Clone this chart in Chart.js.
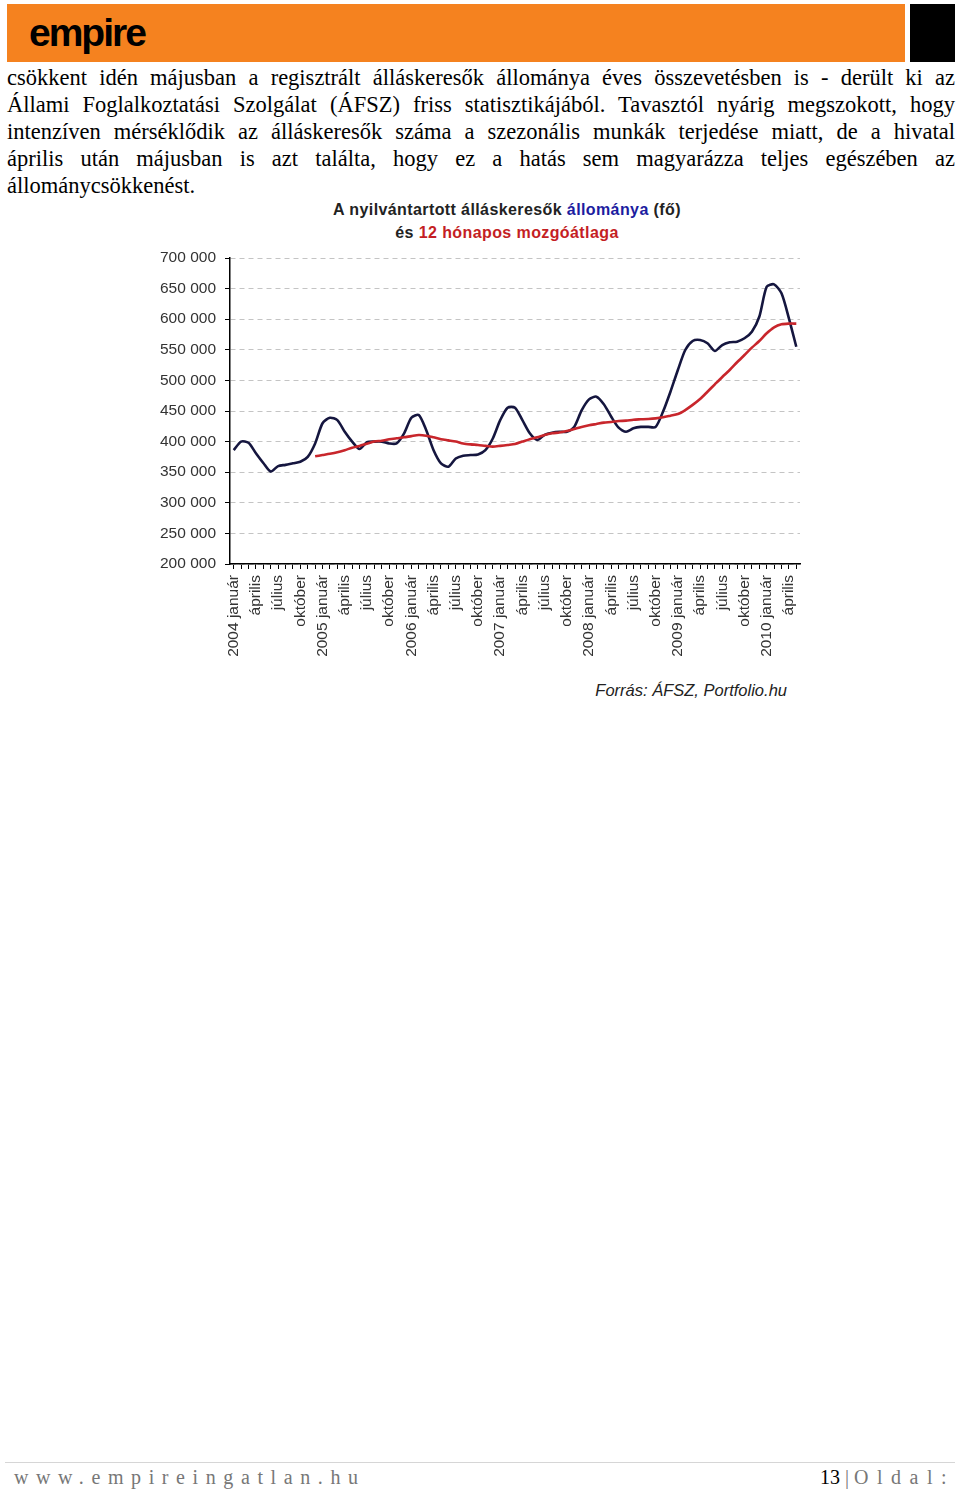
<!DOCTYPE html>
<html lang="hu">
<head>
<meta charset="utf-8">
<title>Álláskeresők állománya</title>
<script src="https://cdn.jsdelivr.net/npm/chart.js@4.4.0/dist/chart.umd.min.js"></script>
<style>
  body { margin: 0; background: #fff; }
  #page { position: relative; width: 960px; height: 1493px; overflow: hidden; }
  #bar { position: absolute; left: 7px; top: 4px; width: 898px; height: 58px; background: #f5821f; }
  #blk { position: absolute; left: 910px; top: 4px; width: 45px; height: 58px; background: #000; }
  #logo { position: absolute; left: 29px; top: 11px; font: 900 39px "Liberation Sans", Arial, sans-serif; letter-spacing: -2.0px; color: #000; }
  #text { position: absolute; left: 7px; top: 64px; width: 948px; font: 22.5px/27px "Liberation Serif", "Times New Roman", serif; color: #000; }
  #text div { text-align: justify; text-align-last: justify; white-space: nowrap; }
  #text div.last { text-align-last: left; }
  #title { position: absolute; left: 227px; top: 198px; width: 560px; text-align: center; font: bold 16px/23px "Liberation Sans", Arial, sans-serif; letter-spacing: 0.4px; color: #222; }
  #title .b { color: #1c1ca0; }
  #title .r { color: #c41e24; }
  #chartBox { position: absolute; left: 150px; top: 245px; width: 660px; height: 430px; }
  #src { position: absolute; left: 540px; width: 247px; top: 681px; text-align: right; font: italic 16.5px "Liberation Sans", Arial, sans-serif; color: #222; }
  #foot { position: absolute; left: 5px; top: 1462px; width: 950px; border-top: 1px solid #d6d6d6; }
  #url { position: absolute; left: 14px; top: 1466px; font: 20px "Liberation Serif", serif; letter-spacing: 7.6px; color: #777; }
  #pg { position: absolute; left: 820px; top: 1466px; font: 20px "Liberation Serif", serif; color: #777; }
  #pg b { font-weight: normal; color: #000; }
  #pg span { letter-spacing: 8.5px; }
</style>
</head>
<body>
<div id="page">
  <div id="bar"></div>
  <div id="blk"></div>
  <div id="logo">empire</div>

  <div id="text">
    <div>csökkent idén májusban a regisztrált álláskeresők állománya éves összevetésben is - derült ki az</div>
    <div>Állami Foglalkoztatási Szolgálat (ÁFSZ) friss statisztikájából. Tavasztól nyárig megszokott, hogy</div>
    <div>intenzíven mérséklődik az álláskeresők száma a szezonális munkák terjedése miatt, de a hivatal</div>
    <div>április után májusban is azt találta, hogy ez a hatás sem magyarázza teljes egészében az</div>
    <div class="last">állománycsökkenést.</div>
  </div>

  <div id="title">A nyilvántartott álláskeresők <span class="b">állománya</span> (fő)<br>és <span class="r">12 hónapos mozgóátlaga</span></div>
  <div id="chartBox"><canvas id="chart" width="660" height="430"></canvas></div>
  <div id="src">Forrás: ÁFSZ, Portfolio.hu</div>

  <div id="foot"></div>
  <div id="url">www.empireingatlan.hu</div>
  <div id="pg"><b>13</b> | <span>Oldal:</span></div>
</div>

<script>
// hónapnevek és évek -> kategóriák (2004 január - 2010 május)
const monthNames = ["január", "február", "március", "április", "május", "június",
  "július", "augusztus", "szeptember", "október", "november", "december"];
const years = [2004, 2005, 2006, 2007, 2008, 2009, 2010];
const lastMonth = 4; // 2010 május

// nyilvántartott álláskeresők (fő)
const allomany = [
  386000, 400000, 398000, 381000, 365000, 351000, 360000, 362000, 364500, 367000, 375000, 397000,
  430000, 439000, 435000, 416000, 400000, 388000, 399000, 400000, 400000, 397000, 397000, 413000,
  439000, 443500, 419000, 386000, 364500, 359000, 372500, 377000, 378000, 379000, 386000, 405000,
  435000, 455500, 455500, 435000, 413500, 402600, 411000, 414600, 416000, 416000, 424000, 451000,
  469000, 473400, 461000, 440700, 422700, 416000, 421700, 424000, 424000, 424000, 449000, 481500,
  517000, 549700, 564400, 566000, 560600, 548000, 557800, 562200, 563300, 568800, 579600, 604000,
  653000, 657000, 642300, 601500, 555000
];

// 12 hónapos mozgóátlag (2004 decembertől)
const mozgoatlag = [
  null, null, null, null, null, null, null, null, null, null, null, 376000,
  378000, 380000, 382500, 386000, 390000, 393000, 396600, 400000, 401500, 403700, 405400, 407000,
  409000, 410800, 409700, 407000, 404000, 402000, 400000, 397000, 395500, 394500, 393000, 391800,
  393000, 394500, 396000, 400000, 404000, 407000, 410800, 413500, 415000, 417300, 420600, 424000,
  426600, 428800, 431000, 432000, 433600, 434200, 435800, 436400, 437000, 438000, 439700, 442300,
  445000, 451600, 460000, 469600, 481500, 493600, 505600, 517000, 529600, 541500, 553500, 564400,
  577000, 586800, 591700, 592800, 592800
];

const yTicks = { min: 200000, max: 700000, step: 50000 };

// kategóriák felépítése
const labels = [];
years.forEach(y => {
  monthNames.forEach((m, i) => {
    if (y === years[years.length - 1] && i > lastMonth) return;
    labels.push(i === 0 ? y + " január" : m);
  });
});

const tickFont = { family: "Liberation Sans, Arial, sans-serif", size: 15.5 };

function fmt(v) {
  return String(v).replace(/\B(?=(\d{3})+(?!\d))/g, " ");
}

new Chart(document.getElementById("chart"), {
  type: "line",
  data: {
    labels: labels,
    datasets: [
      {
        label: "12 hónapos mozgóátlag",
        data: mozgoatlag,
        borderColor: "#c8262c",
        borderWidth: 2.6,
        pointRadius: 0,
        tension: 0.25,
        fill: false
      },
      {
        label: "Állomány",
        data: allomany,
        borderColor: "#15163f",
        borderWidth: 2.6,
        pointRadius: 0,
        tension: 0.25,
        fill: false
      }
    ]
  },
  options: {
    responsive: false,
    animation: false,
    devicePixelRatio: 1,
    layout: { padding: { top: 13, right: 10, left: 0, bottom: 0 } },
    plugins: {
      legend: { display: false },
      tooltip: { enabled: false },
      title: { display: false }
    },
    scales: {
      x: {
        type: "category",
        offset: true,
        grid: {
          drawOnChartArea: false,
          drawTicks: true,
          tickLength: 5,
          tickColor: "#000"
        },
        border: { color: "#000", width: 1.5 },
        ticks: {
          autoSkip: false,
          maxRotation: 90,
          minRotation: 90,
          padding: 6,
          color: "#333",
          font: tickFont,
          callback: function (val, i) {
            return i % 3 === 0 ? labels[i] : "";
          }
        },
        afterFit: s => { s.height = 111; s.paddingLeft = 0; s.paddingRight = 0; }
      },
      y: {
        min: yTicks.min,
        max: yTicks.max,
        grid: {
          color: "#c4c4c4",
          lineWidth: 1,
          tickLength: 5,
          tickColor: "#000"
        },
        border: { color: "#000", width: 1.5, dash: [5, 4] },
        ticks: {
          stepSize: yTicks.step,
          padding: 9,
          color: "#333",
          font: tickFont,
          callback: v => fmt(v)
        },
        afterFit: s => { s.width = 80; s.paddingTop = 9; s.paddingBottom = 9; }
      }
    }
  }
});
</script>
</body>
</html>
